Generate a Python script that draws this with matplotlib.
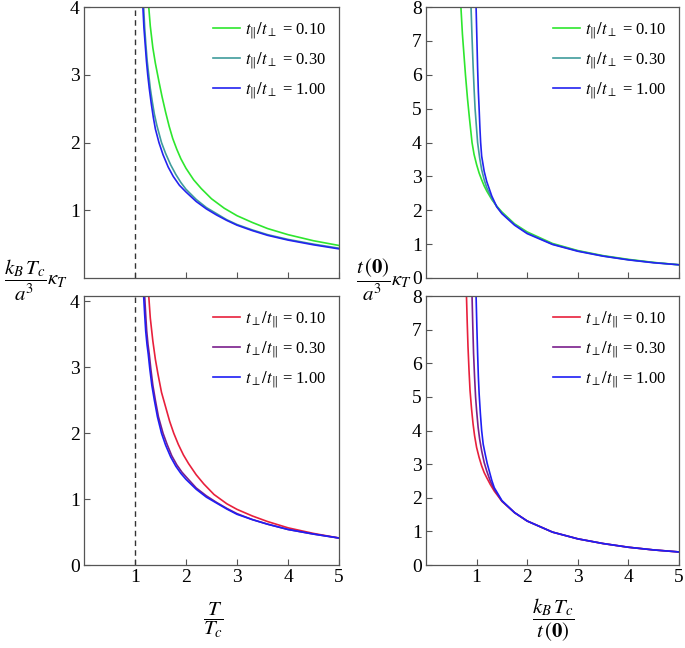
import matplotlib
matplotlib.use("Agg")
import matplotlib.pyplot as plt

plt.rcParams['font.family'] = ['Liberation Serif', 'DejaVu Serif']
plt.rcParams['mathtext.fontset'] = 'stix'

ratio_labels = ["0.10", "0.30", "1.00"]

# top-left: t_par/t_perp, x = T/Tc
tl_x = [
    [1.25, 1.27, 1.3, 1.35, 1.4, 1.47, 1.53, 1.6, 1.67, 1.74, 1.82, 1.9, 2.0, 2.15, 2.3, 2.5,
     2.75, 3.0, 3.3, 3.6, 4.0, 4.5, 5.0],
    [1.16, 1.17, 1.19, 1.215, 1.24, 1.27, 1.3, 1.34, 1.38, 1.43, 1.52, 1.6, 1.7, 1.8, 1.9, 2.0,
     2.2, 2.4, 2.6, 2.8, 3.0, 3.3, 3.6, 4.0, 4.5, 5.0],
    [1.145, 1.155, 1.175, 1.2, 1.225, 1.25, 1.28, 1.32, 1.36, 1.4, 1.47, 1.55, 1.65, 1.75, 1.87,
     2.0, 2.2, 2.4, 2.6, 2.8, 3.0, 3.3, 3.6, 4.0, 4.5, 5.0],
]
tl_y = [
    [4.2, 4.0, 3.72, 3.4, 3.17, 2.9, 2.68, 2.45, 2.24, 2.06, 1.9, 1.76, 1.62, 1.45, 1.32, 1.17,
     1.03, 0.92, 0.82, 0.73, 0.64, 0.55, 0.48],
    [4.2, 4.0, 3.7, 3.43, 3.2, 3.0, 2.8, 2.6, 2.42, 2.25, 2.0, 1.84, 1.67, 1.53, 1.41, 1.31,
     1.16, 1.04, 0.95, 0.86, 0.79, 0.71, 0.64, 0.57, 0.5, 0.44],
    [4.2, 4.0, 3.7, 3.45, 3.2, 3.0, 2.8, 2.57, 2.37, 2.2, 2.0, 1.82, 1.64, 1.5, 1.37,
     1.27, 1.13, 1.02, 0.93, 0.85, 0.78, 0.7, 0.63, 0.56, 0.49, 0.43],
]
top_colors = ['#2ee62e', '#3f9c9c', '#2323f0']

# bottom-left: t_perp/t_par
bl_x = [
    [1.25, 1.27, 1.3, 1.35, 1.4, 1.45, 1.52, 1.6, 1.68, 1.76, 1.85, 1.95, 2.05, 2.2, 2.35, 2.55,
     2.8, 3.0, 3.3, 3.6, 4.0, 4.5, 5.0],
    [1.175, 1.19, 1.21, 1.23, 1.255, 1.28, 1.31, 1.35, 1.4, 1.46, 1.55, 1.63, 1.72, 1.82, 1.92,
     2.0, 2.2, 2.4, 2.6, 2.8, 3.0, 3.3, 3.6, 4.0, 4.5, 5.0],
    [1.155, 1.17, 1.19, 1.21, 1.235, 1.26, 1.29, 1.33, 1.38, 1.44, 1.52, 1.6, 1.7, 1.8, 1.9,
     2.0, 2.2, 2.4, 2.6, 2.8, 3.0, 3.3, 3.6, 4.0, 4.5, 5.0],
]
bl_y = [
    [4.35, 4.08, 3.75, 3.4, 3.12, 2.9, 2.62, 2.4, 2.18, 2.0, 1.83, 1.67, 1.54, 1.37, 1.23, 1.07,
     0.93, 0.845, 0.745, 0.66, 0.565, 0.48, 0.41],
    [4.3, 4.08, 3.8, 3.55, 3.35, 3.2, 2.98, 2.73, 2.5, 2.25, 2.0, 1.83, 1.66, 1.52, 1.41,
     1.34, 1.17, 1.05, 0.95, 0.86, 0.78, 0.69, 0.62, 0.54, 0.47, 0.41],
    [4.3, 4.08, 3.8, 3.55, 3.35, 3.2, 2.98, 2.73, 2.5, 2.25, 2.0, 1.82, 1.64, 1.5, 1.39,
     1.3, 1.15, 1.03, 0.94, 0.85, 0.77, 0.69, 0.62, 0.54, 0.47, 0.41],
]
bot_colors = ['#e8203c', '#7a1f8c', '#1e1ef5']

# top-right: x = kB Tc / t(0)
tr_x = [
    [0.685, 0.69, 0.72, 0.75, 0.78, 0.82, 0.86, 0.91, 0.95, 1.0, 1.05, 1.1, 1.15, 1.2, 1.3, 1.4,
     1.5, 1.75, 2.0, 2.5, 3.0, 3.5, 4.0, 4.5, 5.0],
    [0.885, 0.89, 0.91, 0.93, 0.95, 0.97, 0.995, 1.02, 1.06, 1.1, 1.15, 1.2, 1.3, 1.4, 1.5,
     1.75, 2.0, 2.5, 3.0, 3.5, 4.0, 4.5, 5.0],
    [0.985, 0.99, 1.005, 1.02, 1.035, 1.05, 1.065, 1.08, 1.1, 1.15, 1.2, 1.3, 1.4, 1.5, 1.75,
     2.0, 2.5, 3.0, 3.5, 4.0, 4.5, 5.0],
]
tr_y = [
    [8.3, 8.0, 7.2, 6.6, 6.0, 5.3, 4.7, 4.0, 3.65, 3.35, 3.1, 2.9, 2.72, 2.57, 2.32, 2.12,
     1.95, 1.6, 1.36, 1.02, 0.81, 0.66, 0.55, 0.46, 0.39],
    [8.3, 8.0, 7.1, 6.3, 5.6, 5.0, 4.5, 4.0, 3.55, 3.2, 2.9, 2.67, 2.35, 2.1, 1.92, 1.58,
     1.33, 1.0, 0.8, 0.65, 0.54, 0.455, 0.39],
    [8.3, 8.0, 7.1, 6.2, 5.5, 5.0, 4.45, 4.0, 3.6, 3.15, 2.85, 2.42, 2.1, 1.9, 1.56,
     1.31, 0.99, 0.79, 0.645, 0.535, 0.45, 0.39],
]

# bottom-right
br_x = [
    [0.79, 0.8, 0.815, 0.83, 0.85, 0.87, 0.9, 0.93, 0.96, 1.0, 1.05, 1.1, 1.15, 1.2, 1.27, 1.35,
     1.5, 1.75, 2.0, 2.5, 3.0, 3.5, 4.0, 4.5, 5.0],
    [0.905, 0.91, 0.925, 0.94, 0.96, 0.98, 1.0, 1.03, 1.06, 1.1, 1.15, 1.2, 1.27, 1.35, 1.5,
     1.75, 2.0, 2.5, 3.0, 3.5, 4.0, 4.5, 5.0],
    [0.985, 0.99, 1.005, 1.02, 1.035, 1.05, 1.075, 1.1, 1.13, 1.17, 1.21, 1.25, 1.3, 1.35, 1.5,
     1.75, 2.0, 2.5, 3.0, 3.5, 4.0, 4.5, 5.0],
]
br_y = [
    [8.3, 8.0, 7.2, 6.5, 5.8, 5.2, 4.65, 4.2, 3.85, 3.5, 3.2, 2.95, 2.75, 2.6, 2.4, 2.2,
     1.9, 1.56, 1.31, 0.98, 0.78, 0.64, 0.53, 0.45, 0.39],
    [8.3, 8.0, 7.1, 6.3, 5.6, 5.0, 4.6, 4.1, 3.75, 3.4, 3.05, 2.8, 2.5, 2.25, 1.9,
     1.56, 1.31, 0.98, 0.78, 0.64, 0.53, 0.45, 0.39],
    [8.3, 8.0, 7.1, 6.3, 5.6, 5.1, 4.5, 4.0, 3.6, 3.3, 3.02, 2.8, 2.52, 2.3, 1.92,
     1.56, 1.31, 0.98, 0.78, 0.64, 0.53, 0.45, 0.39],
]

top_lab = r"$t_{\|}/t_{\perp}$ = "
bot_lab = r"$t_{\perp}/t_{\|}$ = "

fig = plt.figure(figsize=(6.85, 6.48), dpi=100)
ax_tl = fig.add_axes([0.1226, 0.571, 0.3723, 0.418])
ax_bl = fig.add_axes([0.1226, 0.128, 0.3723, 0.415])
ax_tr = fig.add_axes([0.6219, 0.571, 0.3693, 0.418])
ax_br = fig.add_axes([0.6219, 0.128, 0.3693, 0.415])

panels = [
    (ax_tl, tl_x, tl_y, top_colors, top_lab, (0, 4), [1, 2, 3, 4]),
    (ax_bl, bl_x, bl_y, bot_colors, bot_lab, (0, 4.08), [0, 1, 2, 3, 4]),
    (ax_tr, tr_x, tr_y, top_colors, top_lab, (0, 8), list(range(9))),
    (ax_br, br_x, br_y, bot_colors, bot_lab, (0, 8), list(range(9))),
]

for ax, xs, ys, cols, lab, ylim, yt in panels:
    for x, y, c, v in zip(xs, ys, cols, ratio_labels):
        ax.plot(x, y, color=c, lw=1.2, label=lab + v)
    ax.set_xlim(0, 5)
    ax.set_ylim(*ylim)
    ax.set_xticks([1, 2, 3, 4, 5])
    ax.set_yticks(yt)
    ax.tick_params(direction='in', length=4, width=0.8, color='#555555',
                   labelsize=14, pad=3)
    for s in ax.spines.values():
        s.set_color('#555555')
        s.set_linewidth(0.9)
    ax.legend(loc='upper right', frameon=False, fontsize=12,
              handlelength=1.6, handletextpad=0.3, labelspacing=0.55,
              borderaxespad=0.4)

for ax in (ax_tl, ax_bl):
    ax.axvline(1, color='#333333', ls=(0, (4, 3)), lw=1)

for ax in (ax_tl, ax_tr):
    ax.tick_params(labelbottom=False)

fig.text(0.052, 1 - 280 / 648, r"$\dfrac{k_B\,T_c}{a^3}\kappa_T$",
         ha='center', va='center', fontsize=15)
fig.text(0.56, 1 - 280 / 648, r"$\dfrac{t\,(\mathbf{0})}{a^3}\kappa_T$",
         ha='center', va='center', fontsize=15)
fig.text(213 / 685, 1 - 620 / 648, r"$\dfrac{T}{T_c}$",
         ha='center', va='center', fontsize=15)
fig.text(553 / 685, 1 - 620 / 648, r"$\dfrac{k_B\,T_c}{t\,(\mathbf{0})}$",
         ha='center', va='center', fontsize=15)

fig.savefig("out.png", dpi=100)
